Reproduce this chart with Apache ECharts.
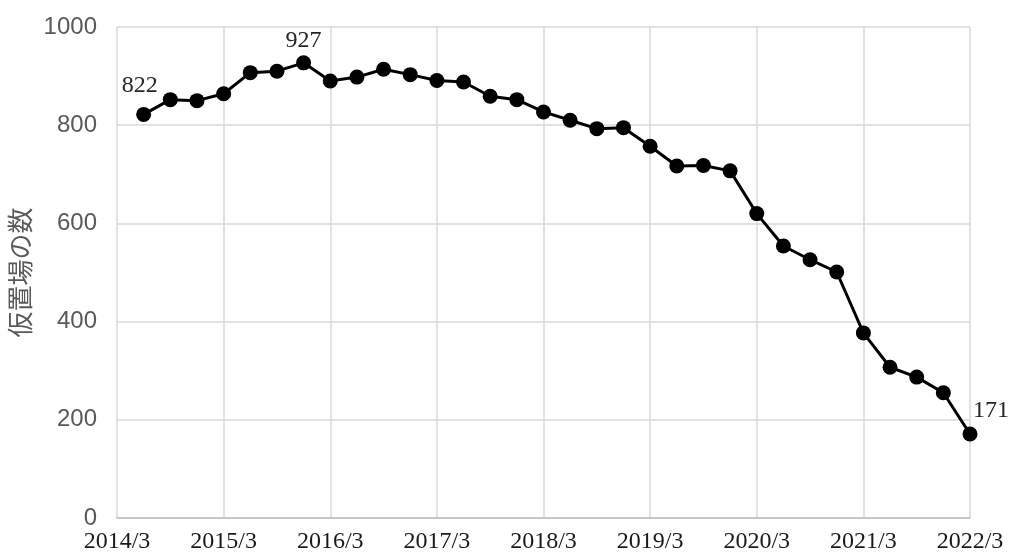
<!DOCTYPE html>
<html>
<head>
<meta charset="utf-8">
<script src="https://cdn.jsdelivr.net/npm/echarts@6/dist/echarts.min.js"></script>
<style>
  html, body { margin: 0; padding: 0; background: #fff; }
  #chart { width: 1010px; height: 557px; }
</style>
</head>
<body>
<div id="chart"></div>
<script>
// 四半期ごとの仮置場の数
var quarters = [
  '2014/3', '2014/6', '2014/9', '2014/12',
  '2015/3', '2015/6', '2015/9', '2015/12',
  '2016/3', '2016/6', '2016/9', '2016/12',
  '2017/3', '2017/6', '2017/9', '2017/12',
  '2018/3', '2018/6', '2018/9', '2018/12',
  '2019/3', '2019/6', '2019/9', '2019/12',
  '2020/3', '2020/6', '2020/9', '2020/12',
  '2021/3', '2021/6', '2021/9', '2021/12',
  '2022/3'
];
// 2014/3 はデータなし
var counts = [
  null, 822, 852, 850, 864, 907, 910, 927, 890,
  898, 914, 903, 891, 888, 859, 852, 827,
  810, 793, 795, 757, 717, 718, 707, 620,
  554, 526, 501, 377, 307, 287, 255, 171
];
var yTicks = { min: 0, max: 1000, step: 200 };

// ラベルを付ける点（最初・最大・最後）
var labelOffsets = {};
labelOffsets[1] = [-4, -4];
labelOffsets[7] = [0, 2];
labelOffsets[32] = [21, 1];

var seriesData = counts.map(function (v, i) {
  if (v === null) return '-';
  if (labelOffsets[i]) {
    return {
      value: v,
      label: {
        show: true,
        position: 'top',
        offset: labelOffsets[i],
        fontFamily: 'Liberation Serif',
        fontSize: 24,
        color: '#262626'
      }
    };
  }
  return v;
});

var chart = echarts.init(document.getElementById('chart'));
var option = {
  animation: false,
  backgroundColor: '#fff',
  grid: { left: 117, right: 40, top: 27, bottom: 39, outerBoundsMode: 'none' },
  xAxis: {
    type: 'category',
    data: quarters,
    boundaryGap: false,
    axisLine: { lineStyle: { color: '#bfbfbf', width: 1.5 } },
    axisTick: { show: false },
    axisLabel: {
      interval: 3,
      margin: 12,
      fontFamily: 'Liberation Serif',
      fontSize: 24,
      color: '#1a1a1a'
    },
    splitLine: { show: true, interval: 3, lineStyle: { color: '#d9d9d9', width: 1.5 } }
  },
  yAxis: {
    type: 'value',
    min: yTicks.min,
    max: yTicks.max,
    interval: yTicks.step,
    name: '仮置場の数',
    nameLocation: 'middle',
    nameRotate: 90,
    nameGap: 77,
    nameTextStyle: { fontFamily: 'Noto Sans CJK JP', fontSize: 26, color: '#595959' },
    axisLine: { show: false },
    axisTick: { show: false },
    axisLabel: {
      margin: 20,
      fontFamily: 'Liberation Sans',
      fontSize: 24,
      color: '#595959',
      formatter: function (v) { return String(v); }
    },
    splitLine: { lineStyle: { color: '#d9d9d9', width: 1.5 } }
  },
  series: [{
    type: 'line',
    data: seriesData,
    symbol: 'circle',
    symbolSize: 15,
    itemStyle: { color: '#000' },
    lineStyle: { color: '#000', width: 3 },
    label: { show: false }
  }]
};
chart.setOption(option);
</script>
</body>
</html>
